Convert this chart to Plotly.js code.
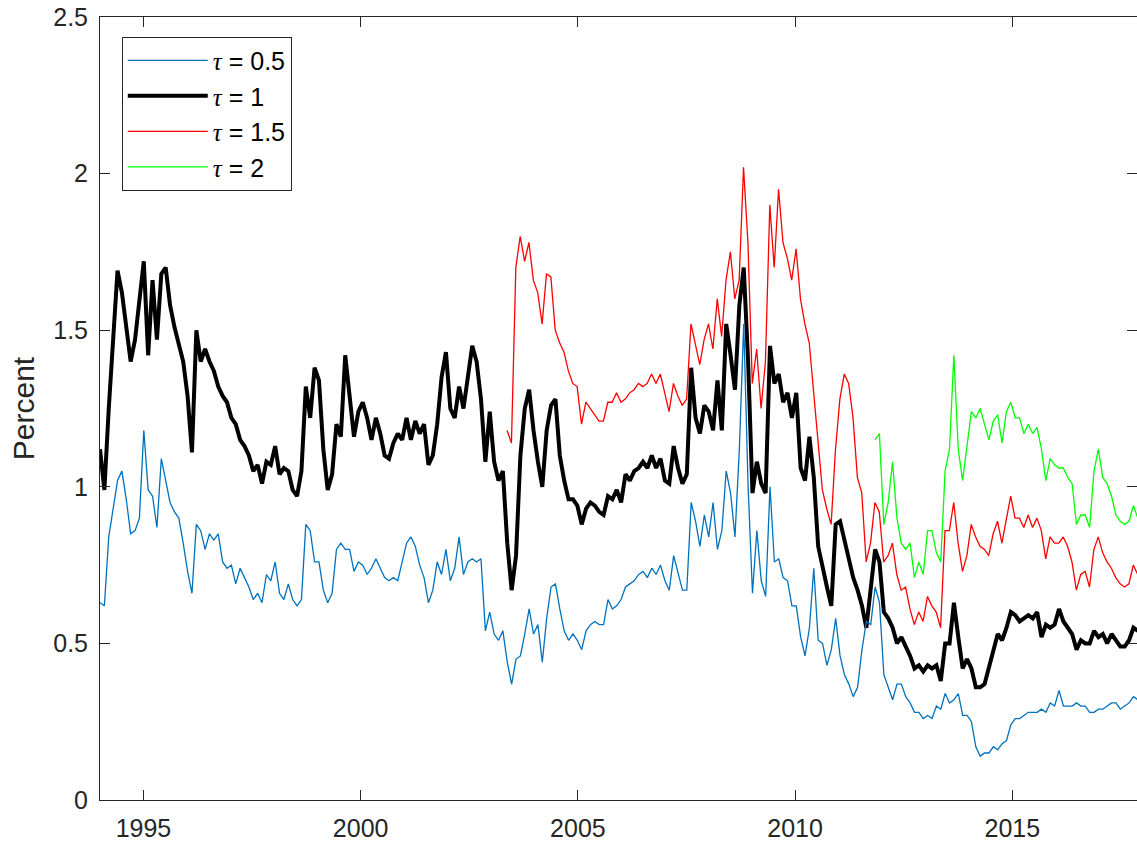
<!DOCTYPE html>
<html>
<head>
<meta charset="utf-8">
<script src="https://cdn.plot.ly/plotly-3.0.1.min.js"></script>
<style>html,body{margin:0;padding:0;background:#fff;}#chart{width:1137px;height:845px;}</style>
</head>
<body>
<div id="chart"></div>
<script>
const STEP = 0.1008;
const START_TAU1 = 1994.0;    // tau = 0.5 and tau = 1 start
const START_TAU15 = 2003.37;  // tau = 1.5 start
const START_TAU2 = 2011.84;   // tau = 2 start

const seriesLabels = ["0.5", "1", "1.5", "2"];
const xTickYears = [1995, 2000, 2005, 2010, 2015];
const xTickLabels = ["1995", "2000", "2005", "2010", "2015"];
const yTickValues = [0, 0.5, 1, 1.5, 2, 2.5];
const yTickLabels = ["0", "0.5", "1", "1.5", "2", "2.5"];

const tau05 = [
0.63,0.62,0.84,0.93,1.02,1.05,0.96,0.85,0.86,0.90,
1.18,0.99,0.97,0.87,1.09,1.02,0.95,0.92,0.90,0.82,
0.73,0.66,0.88,0.86,0.80,0.85,0.83,0.85,0.76,0.74,
0.75,0.69,0.74,0.71,0.68,0.64,0.66,0.63,0.72,0.70,
0.76,0.66,0.64,0.69,0.64,0.62,0.64,0.88,0.86,0.76,
0.76,0.67,0.63,0.66,0.80,0.82,0.80,0.80,0.73,0.76,
0.75,0.72,0.74,0.77,0.74,0.71,0.70,0.71,0.70,0.76,
0.82,0.84,0.81,0.75,0.71,0.63,0.67,0.76,0.72,0.80,
0.70,0.74,0.84,0.72,0.76,0.77,0.76,0.77,0.54,0.60,
0.53,0.51,0.54,0.44,0.37,0.45,0.46,0.53,0.61,0.53,
0.56,0.44,0.58,0.68,0.69,0.61,0.54,0.51,0.53,0.51,
0.48,0.54,0.56,0.57,0.56,0.56,0.64,0.61,0.62,0.64,
0.68,0.69,0.70,0.72,0.73,0.71,0.74,0.72,0.75,0.70,
0.67,0.78,0.72,0.67,0.67,0.95,0.89,0.81,0.91,0.84,
0.95,0.80,0.86,1.05,0.98,0.84,1.12,1.52,1.00,0.66,
0.86,0.70,0.65,1.00,0.76,0.77,0.71,0.70,0.62,0.62,
0.52,0.46,0.55,0.74,0.51,0.50,0.43,0.48,0.58,0.46,
0.40,0.37,0.33,0.36,0.48,0.57,0.56,0.68,0.63,0.40,
0.36,0.32,0.37,0.37,0.33,0.31,0.28,0.28,0.26,0.27,
0.26,0.30,0.29,0.34,0.31,0.32,0.34,0.27,0.27,0.25,
0.17,0.14,0.15,0.15,0.17,0.16,0.18,0.19,0.24,0.26,
0.26,0.27,0.28,0.28,0.28,0.29,0.28,0.31,0.30,0.35,
0.30,0.30,0.30,0.31,0.30,0.30,0.28,0.28,0.29,0.29,
0.30,0.31,0.31,0.29,0.30,0.31,0.33,0.32
];

const tau1 = [
1.12,0.99,1.25,1.45,1.69,1.62,1.50,1.40,1.47,1.60,
1.72,1.42,1.66,1.47,1.68,1.70,1.58,1.51,1.46,1.40,
1.29,1.11,1.50,1.40,1.44,1.40,1.37,1.32,1.29,1.27,
1.22,1.20,1.15,1.13,1.10,1.05,1.07,1.01,1.08,1.07,
1.13,1.04,1.06,1.05,0.99,0.97,1.05,1.32,1.22,1.38,
1.34,1.12,0.99,1.04,1.20,1.16,1.42,1.28,1.16,1.24,
1.27,1.22,1.15,1.22,1.17,1.10,1.09,1.14,1.17,1.15,
1.22,1.15,1.21,1.17,1.20,1.07,1.10,1.20,1.35,1.43,
1.25,1.22,1.32,1.25,1.36,1.45,1.40,1.28,1.08,1.24,
1.08,1.02,1.05,0.82,0.67,0.78,1.10,1.25,1.31,1.18,
1.08,1.00,1.18,1.26,1.28,1.10,1.02,0.96,0.96,0.94,
0.88,0.93,0.95,0.94,0.92,0.91,0.97,0.96,0.99,0.95,
1.04,1.02,1.05,1.06,1.08,1.06,1.10,1.06,1.09,1.02,
1.01,1.13,1.06,1.01,1.04,1.38,1.22,1.17,1.26,1.24,
1.18,1.34,1.18,1.52,1.42,1.31,1.58,1.70,1.40,0.98,
1.08,1.01,0.98,1.45,1.33,1.36,1.27,1.30,1.22,1.30,
1.06,1.02,1.16,1.03,0.81,0.74,0.68,0.62,0.88,0.89,
0.83,0.76,0.71,0.67,0.62,0.55,0.67,0.80,0.76,0.60,
0.58,0.55,0.50,0.52,0.49,0.46,0.42,0.43,0.41,0.43,
0.42,0.43,0.38,0.50,0.50,0.63,0.52,0.42,0.45,0.42,
0.36,0.36,0.37,0.42,0.48,0.53,0.51,0.55,0.60,0.59,
0.57,0.58,0.59,0.58,0.60,0.52,0.56,0.55,0.56,0.61,
0.57,0.55,0.53,0.48,0.51,0.50,0.50,0.54,0.52,0.53,
0.50,0.53,0.51,0.49,0.49,0.51,0.55,0.54
];

const tau15 = [
1.18,1.14,1.70,1.80,1.72,1.78,1.66,
1.62,1.52,1.68,1.67,1.50,1.46,1.43,1.37,1.33,1.32,
1.20,1.27,1.25,1.23,1.21,1.21,1.27,1.27,1.30,1.27,
1.28,1.30,1.31,1.33,1.32,1.33,1.36,1.33,1.36,1.30,
1.24,1.33,1.29,1.26,1.28,1.52,1.46,1.39,1.47,1.52,
1.44,1.60,1.48,1.66,1.75,1.60,1.66,2.02,1.78,1.33,
1.44,1.25,1.40,1.90,1.70,1.95,1.78,1.73,1.66,1.76,
1.60,1.52,1.46,1.30,1.15,0.99,0.93,0.88,1.12,1.28,
1.36,1.33,1.22,1.03,0.98,0.76,0.82,0.95,0.92,0.76,
0.78,0.82,0.72,0.67,0.68,0.61,0.56,0.60,0.57,0.65,
0.62,0.60,0.55,0.86,0.86,0.95,0.82,0.73,0.78,0.88,
0.84,0.81,0.80,0.78,0.85,0.89,0.82,0.90,0.97,0.90,
0.90,0.87,0.91,0.87,0.90,0.86,0.77,0.84,0.82,0.82,
0.84,0.81,0.76,0.67,0.72,0.73,0.68,0.80,0.84,0.79,
0.76,0.74,0.71,0.69,0.68,0.69,0.75,0.72
];

const tau2 = [
1.15,1.17,0.88,
0.95,1.08,0.90,0.82,0.80,0.82,0.71,0.76,0.72,0.86,
0.86,0.79,0.76,1.05,1.12,1.42,1.12,1.02,1.14,1.24,
1.22,1.25,1.20,1.15,1.21,1.23,1.14,1.24,1.27,1.22,
1.22,1.17,1.20,1.17,1.19,1.12,1.02,1.09,1.07,1.06,
1.06,1.03,1.01,0.88,0.91,0.91,0.87,1.05,1.12,1.03,
1.01,0.97,0.91,0.89,0.88,0.89,0.94,0.90
];

function yearsFrom(start, n) {
  const out = [];
  for (let i = 0; i < n; i++) out.push(+(start + i * STEP).toFixed(4));
  return out;
}
function tauName(v) {
  return '<span style="font-family:\'Liberation Serif\',\'DejaVu Serif\',serif"><i>\u03C4</i></span> = ' + v;
}

const AX = '#262626';
const FONT = '"Liberation Sans", Arial, Helvetica, sans-serif';

const traces = [
  {x: yearsFrom(START_TAU1, tau1.length), y: tau1, name: tauName(seriesLabels[1]), legendrank: 2,
   type: 'scatter', mode: 'lines', line: {color: '#000000', width: 4}},
  {x: yearsFrom(START_TAU1, tau05.length), y: tau05, name: tauName(seriesLabels[0]), legendrank: 1,
   type: 'scatter', mode: 'lines', line: {color: '#0072BD', width: 1.3}},
  {x: yearsFrom(START_TAU15, tau15.length), y: tau15, name: tauName(seriesLabels[2]), legendrank: 3,
   type: 'scatter', mode: 'lines', line: {color: '#FF0000', width: 1.3}},
  {x: yearsFrom(START_TAU2, tau2.length), y: tau2, name: tauName(seriesLabels[3]), legendrank: 4,
   type: 'scatter', mode: 'lines', line: {color: '#00FF00', width: 1.3}}
];

const axisCommon = {
  showline: true, linecolor: AX, linewidth: 1, mirror: 'ticks',
  ticks: 'inside', ticklen: 10, tickwidth: 1, tickcolor: AX,
  showgrid: false, zeroline: false,
  tickfont: {family: FONT, size: 25, color: AX}
};

const layout = {
  width: 1137, height: 845,
  margin: {l: 100, r: 0, t: 17, b: 45},
  paper_bgcolor: '#ffffff', plot_bgcolor: '#ffffff',
  font: {family: FONT, color: AX},
  showlegend: true,
  xaxis: Object.assign({}, axisCommon, {
    range: [1994.0, 2017.87], tickmode: 'array', tickvals: xTickYears, ticktext: xTickLabels,
    ticklabelstandoff: 6
  }),
  yaxis: Object.assign({}, axisCommon, {
    range: [0, 2.5], tickmode: 'array', tickvals: yTickValues, ticktext: yTickLabels,
    ticklabelstandoff: 6,
    title: {text: 'Percent', font: {family: FONT, size: 30, color: AX}, standoff: 9}
  }),
  legend: {
    x: 0.021, y: 0.975, xanchor: 'left', yanchor: 'top',
    bgcolor: '#ffffff', bordercolor: AX, borderwidth: 1,
    font: {family: FONT, size: 25, color: '#000000'},
    itemwidth: 80, traceorder: 'normal'
  }
};

Plotly.newPlot('chart', traces, layout, {staticPlot: true, displayModeBar: false});
</script>
</body>
</html>
